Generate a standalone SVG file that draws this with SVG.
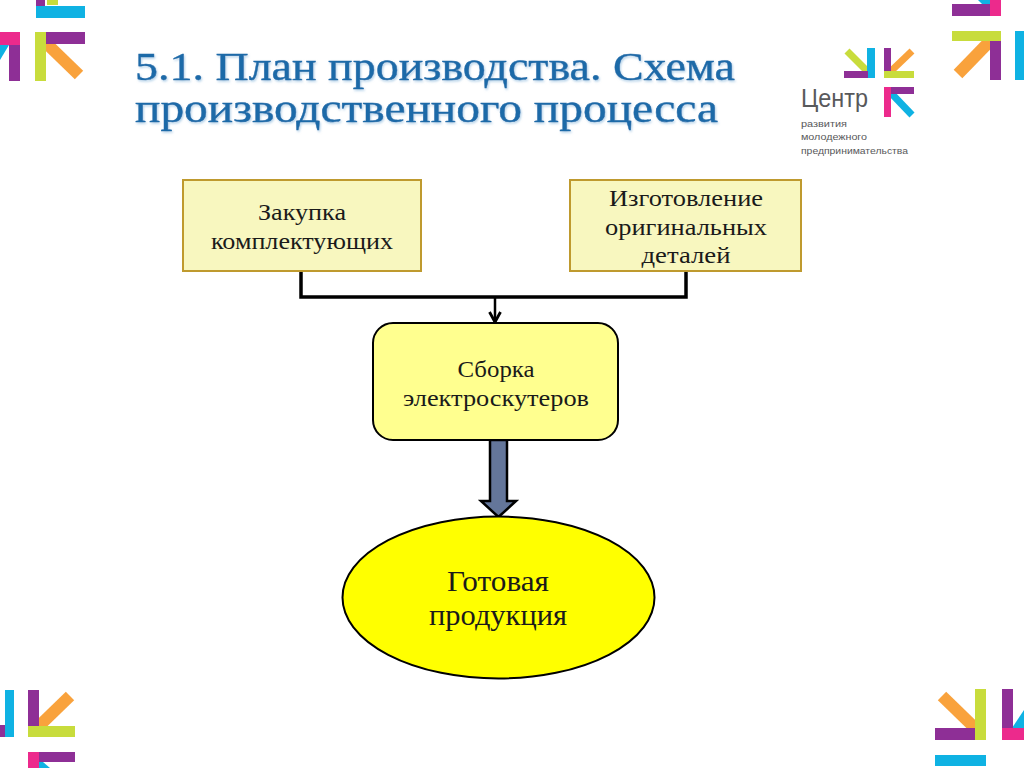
<svg xmlns="http://www.w3.org/2000/svg" width="1024" height="768" viewBox="0 0 1024 768">
<defs>
<filter id="ts" x="-5%" y="-5%" width="110%" height="120%"><feDropShadow dx="1" dy="1.5" stdDeviation="0.8" flood-color="#7fb0d8" flood-opacity="0.6"/></filter>
<marker id="ah" viewBox="0 0 14 14" refX="11" refY="7" markerWidth="14" markerHeight="14" markerUnits="userSpaceOnUse" orient="auto"><path d="M1 1.500 L11 7 L1 12.500" fill="none" stroke="#000" stroke-width="2.800"/></marker>
</defs>
<style>
.t{font-family:"Liberation Serif","DejaVu Serif",serif;text-anchor:middle;fill:#1a1a1a}
.h{font-family:"Liberation Serif","DejaVu Serif",serif;font-size:39px;fill:#1f6aa8;stroke:#1f6aa8;stroke-width:0.4;filter:url(#ts)}
.b{font-size:24px}
.g{font-family:"Liberation Sans",sans-serif;fill:#58595b}
.p{fill:#8e2f96}.c{fill:#0fb2e3}.m{fill:#ec2a8c}.l{fill:#c8dc3c}
.o{stroke:#f9a23c;fill:none}.dl{stroke:#c8dc3c;fill:none}.dc{stroke:#0fb2e3;fill:none}
</style>
<rect width="1024" height="768" fill="#fff"/>
<g id="deco-top-left">
<rect class="p" x="36" y="0" width="9" height="6"/><rect class="l" x="47" y="0" width="11" height="5"/>
<rect class="c" x="36" y="6" width="49" height="12"/>
<rect class="m" x="0" y="32" width="20" height="13"/><rect class="p" x="9" y="45" width="11" height="36"/>
<path class="c" d="M0 45H9L0 60Z"/>
<path class="o" stroke-width="12" d="M46 43L79 75"/>
<rect class="l" x="35" y="32" width="11" height="49"/><rect class="p" x="46" y="32" width="39" height="12"/>
</g>
<g id="deco-top-right">
<path class="c" d="M978 0H990V4H982Z"/><rect class="p" x="952" y="4" width="38" height="12"/><rect class="m" x="990" y="0" width="11" height="16"/>
<path class="o" stroke-width="12" d="M991 40L958 74"/>
<rect class="l" x="952" y="31" width="49" height="10"/><rect class="p" x="990" y="41" width="11" height="39"/>
<rect class="c" x="1015" y="31" width="9" height="49"/>
</g>
<g id="deco-bottom-left">
<rect class="c" x="5" y="690" width="9" height="47"/><rect class="p" x="0" y="725" width="5" height="12"/>
<path class="o" stroke-width="12" d="M37 728L70 696"/>
<rect class="p" x="28" y="690" width="11" height="36"/>
<rect class="l" x="28" y="726" width="47" height="11"/>
<rect class="m" x="28" y="752" width="11" height="16"/><rect class="p" x="39" y="752" width="36" height="10"/>
<path class="c" d="M39 762H43L50 768H39Z"/>
</g>
<g id="deco-bottom-right">
<path class="o" stroke-width="12" d="M942 696L977 730"/>
<rect class="l" x="975" y="689" width="11" height="51"/><rect class="p" x="935" y="728" width="40" height="12"/>
<rect class="c" x="935" y="755" width="51" height="11"/>
<path class="c" d="M1024 710V728H1012Z"/><rect class="p" x="1002" y="689" width="11" height="39"/><rect class="m" x="1002" y="728" width="22" height="12"/>
</g>
<g id="logo">
<path class="dl" stroke-width="7" d="M847 51L868 72"/>
<rect class="c" x="867" y="48" width="8" height="30"/><rect class="p" x="844" y="71" width="24" height="7"/>
<path class="o" stroke-width="7" d="M889 73L912 51"/>
<rect class="p" x="884" y="48" width="7" height="23"/><rect class="l" x="884" y="71" width="30" height="7"/>
<path class="dc" stroke-width="7" d="M890 92L912 115"/>
<rect class="m" x="884" y="87" width="7" height="30"/><rect class="p" x="891" y="87" width="23" height="7"/>
<text class="g" x="801" y="107" font-size="25" textLength="67" lengthAdjust="spacingAndGlyphs">Центр</text>
<text class="g" x="801" y="127" font-size="9.500" textLength="46" lengthAdjust="spacingAndGlyphs">развития</text>
<text class="g" x="801" y="140" font-size="9.500" textLength="66" lengthAdjust="spacingAndGlyphs">молодежного</text>
<text class="g" x="801" y="154" font-size="9.500" textLength="107" lengthAdjust="spacingAndGlyphs">предпринимательства</text>
</g>
<g id="title">
<text class="h" x="135" y="80" textLength="600" lengthAdjust="spacingAndGlyphs">5.1. План производства. Схема</text>
<text class="h" x="135" y="122" textLength="583" lengthAdjust="spacingAndGlyphs">производственного процесса</text>
</g>
<g id="connectors">
<path d="M301 271V297H686V271" fill="none" stroke="#000" stroke-width="3.500"/>
<path d="M495 297V322" fill="none" stroke="#000" stroke-width="2.500" marker-end="url(#ah)"/>
<path d="M490 440H507V501H516L498.500 517L481 501H490Z" fill="#64769a" stroke="#000" stroke-width="2.500"/>
</g>
<g id="node-purchase">
<rect x="183" y="180" width="238" height="91" fill="#f8f7bf" stroke="#bf9a2e" stroke-width="2"/>
<text class="t b" x="302" y="220" textLength="88" lengthAdjust="spacingAndGlyphs">Закупка</text>
<text class="t b" x="302" y="249" textLength="182" lengthAdjust="spacingAndGlyphs">комплектующих</text>
</g>
<g id="node-parts">
<rect x="570" y="180" width="231" height="91" fill="#f8f7bf" stroke="#bf9a2e" stroke-width="2"/>
<text class="t b" x="686" y="206" textLength="154" lengthAdjust="spacingAndGlyphs">Изготовление</text>
<text class="t b" x="686" y="235" textLength="162" lengthAdjust="spacingAndGlyphs">оригинальных</text>
<text class="t b" x="686" y="263" textLength="89" lengthAdjust="spacingAndGlyphs">деталей</text>
</g>
<g id="node-assembly">
<rect x="373" y="323" width="245" height="117" rx="20" fill="#ffff8f" stroke="#000" stroke-width="2"/>
<text class="t b" x="496" y="377" textLength="77" lengthAdjust="spacingAndGlyphs">Сборка</text>
<text class="t b" x="496" y="406" textLength="186" lengthAdjust="spacingAndGlyphs">электроскутеров</text>
</g>
<g id="node-product">
<ellipse cx="498.500" cy="597.500" rx="156" ry="81" fill="#ffff00" stroke="#000" stroke-width="2"/>
<text class="t" font-size="29" x="498" y="591" textLength="102" lengthAdjust="spacingAndGlyphs">Готовая</text>
<text class="t" font-size="29" x="498" y="625" textLength="138" lengthAdjust="spacingAndGlyphs">продукция</text>
</g>
</svg>
